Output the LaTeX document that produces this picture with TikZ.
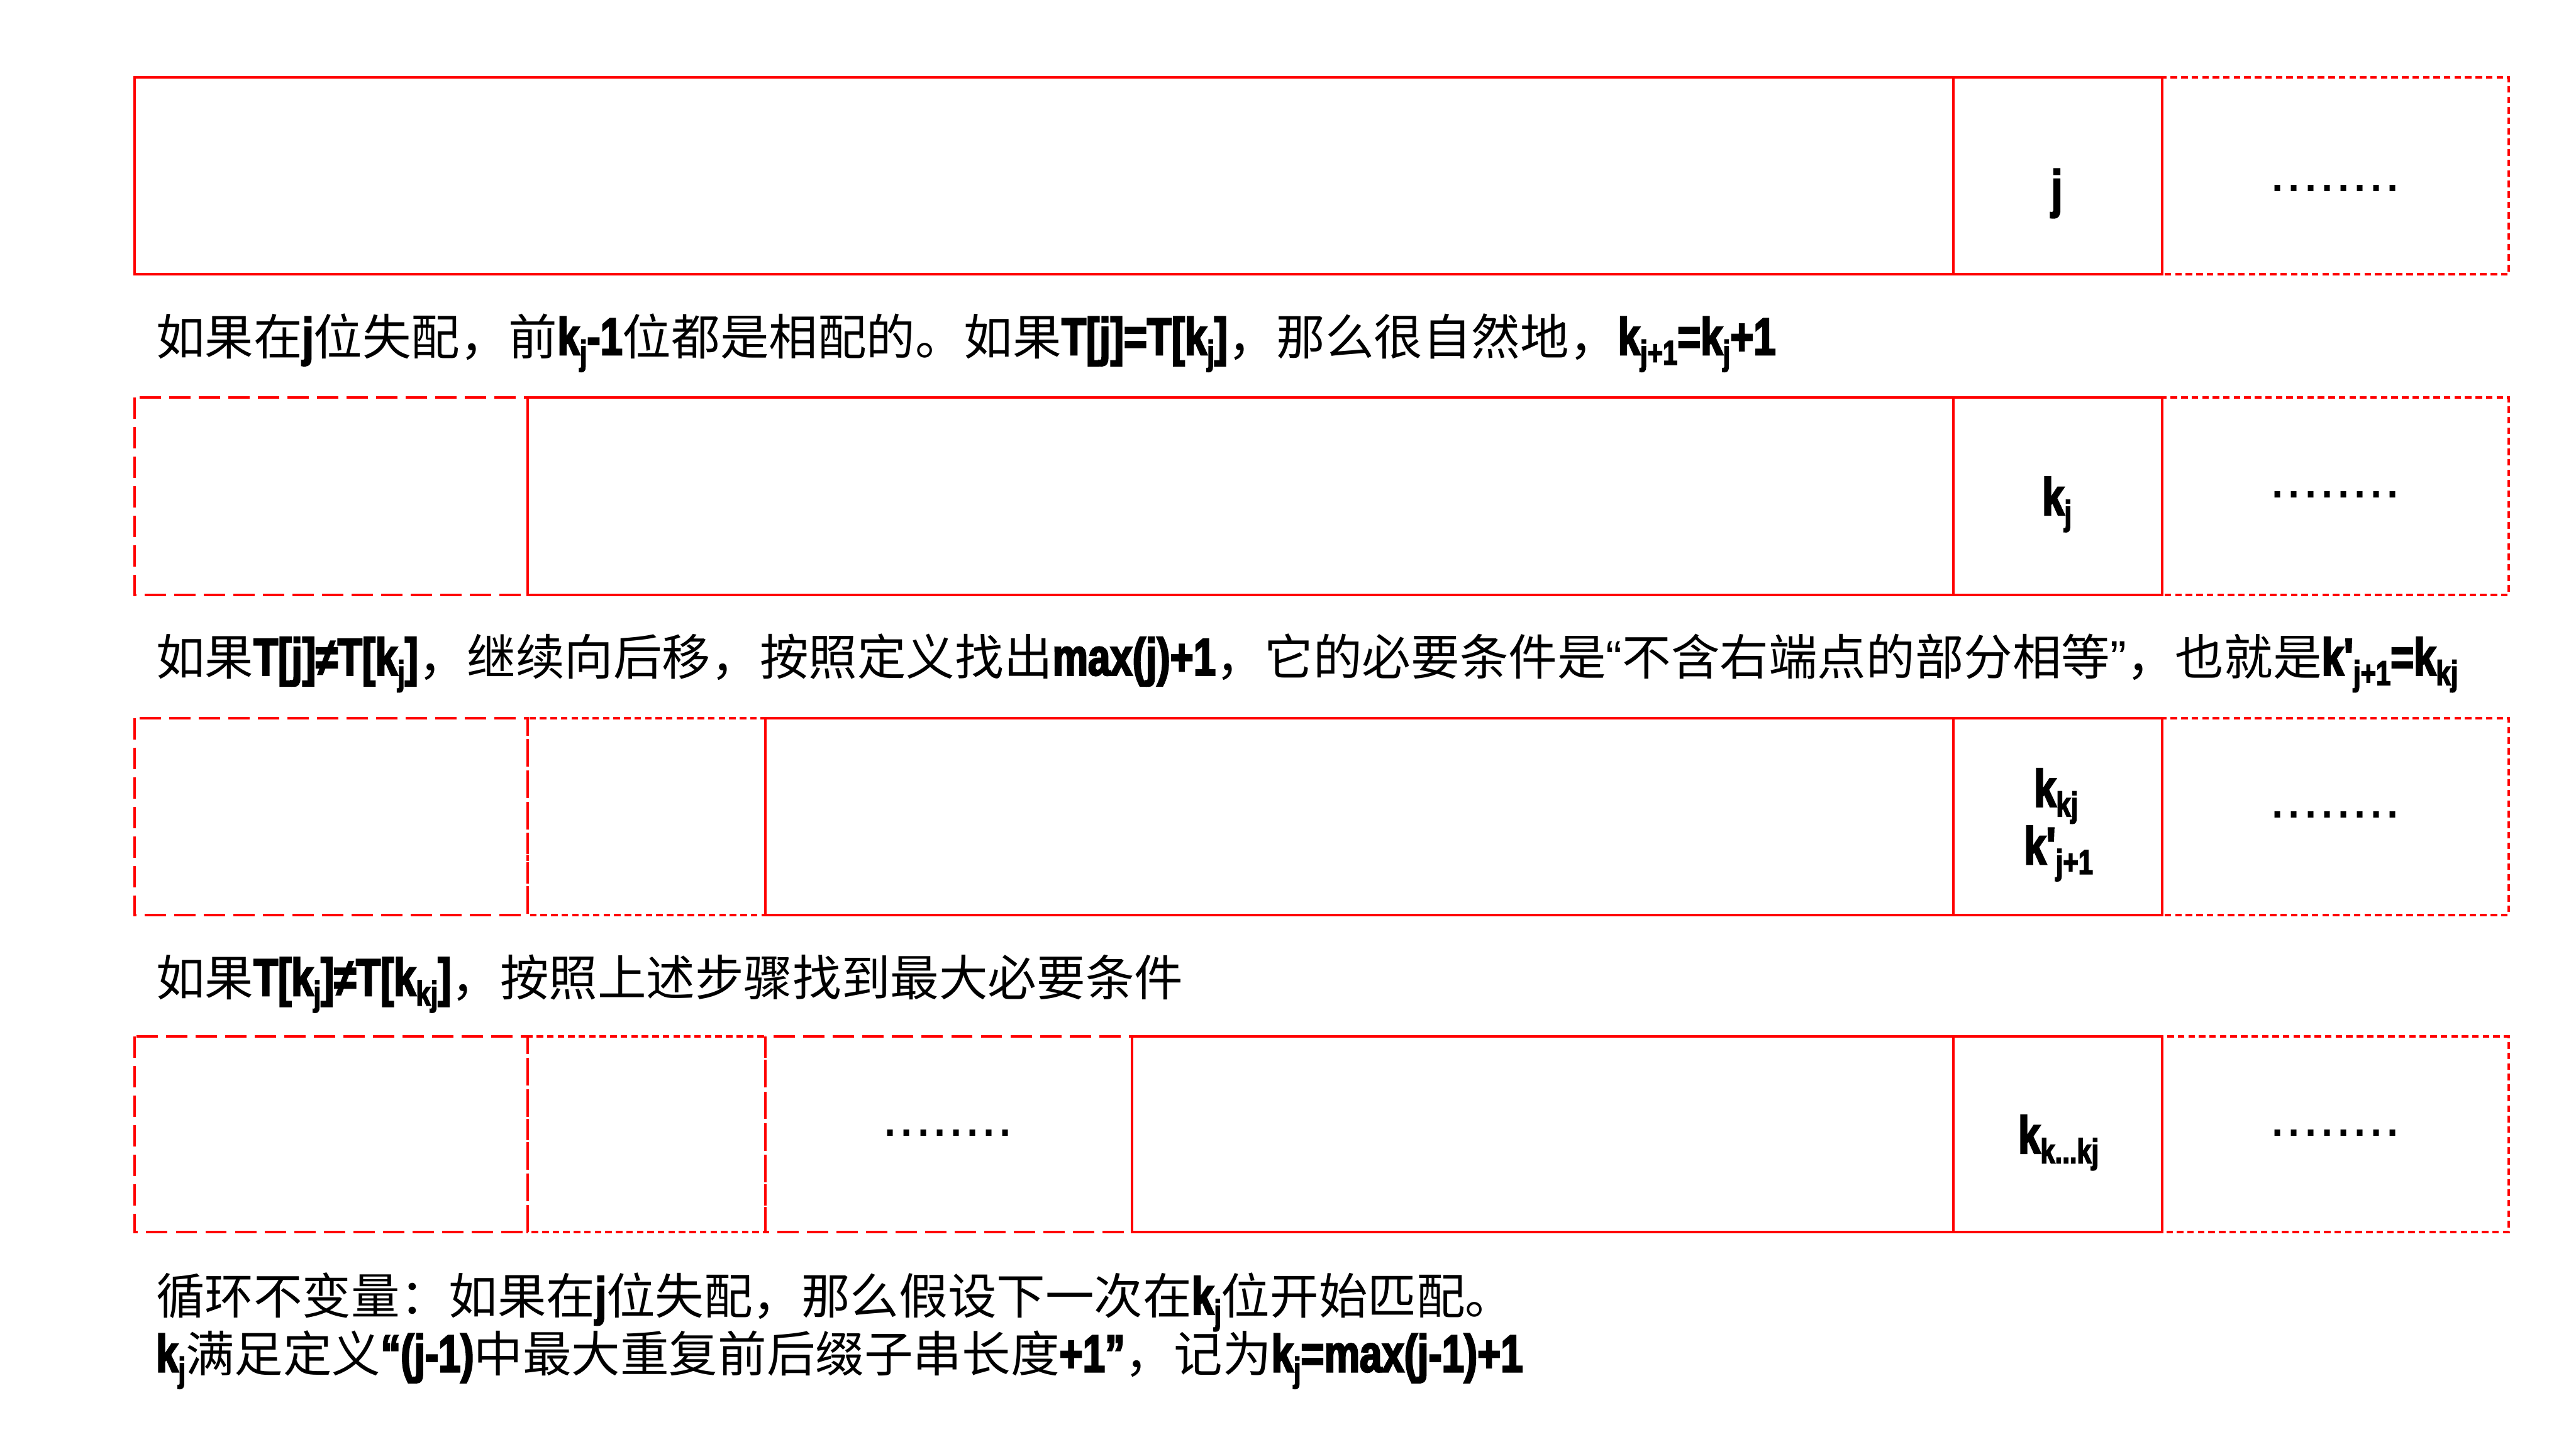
\documentclass[tikz,border=0pt]{standalone}
\usepackage{fontspec}
\setmainfont{Noto Sans CJK SC}
\newfontfamily\latf[FakeStretch=0.76,BoldFeatures={FakeBold=3}]{Liberation Sans}
\newfontfamily\dotf{Liberation Sans}
\newcommand\lt[1]{{\latf\bfseries\fontsize{32}{38}\selectfont #1}}
\newcommand\sbs[1]{\raisebox{-6pt}{\fontsize{21}{21}\selectfont #1}}
\newcommand\dotrow{{\dotf\fontsize{36}{40}\selectfont ........}}
\tikzset{
  every node/.style={inner sep=0pt,outer sep=0pt},
  txt/.style={anchor=base west,font=\fontsize{29.7}{35}\selectfont},
  lbl/.style={anchor=base},
  solidbox/.style={draw=red,line width=1.5pt},
  dotbox/.style={draw=red,line width=1.5pt,dash pattern=on 4pt off 2.4pt},
  longdash/.style={draw=red,line width=1.5pt,dash pattern=on 13pt off 5pt}
}
\begin{document}
\begin{tikzpicture}[x=1pt,y=-1pt]
\useasboundingbox (0,0) rectangle (1568,882);
% row 1
\draw[dotbox] (1316,47) rectangle (1527,167);
\draw[solidbox] (82,47) rectangle (1316,167);
\draw[solidbox,line width=1.2pt] (1189,47) -- (1189,167);
% row 2
\draw[longdash] (82,242) rectangle (321,362);
\draw[dotbox] (1316,242) rectangle (1527,362);
\draw[solidbox] (321,242) rectangle (1316,362);
\draw[solidbox,line width=1.2pt] (1189,242) -- (1189,362);
% row 3
\draw[longdash] (82,437) rectangle (321,557);
\draw[dotbox] (321,437) rectangle (466,557);
\draw[dotbox] (1316,437) rectangle (1527,557);
\draw[solidbox] (466,437) rectangle (1316,557);
\draw[solidbox,line width=1.2pt] (1189,437) -- (1189,557);
% row 4
\draw[longdash] (82,631) rectangle (321,750);
\draw[dotbox] (321,631) rectangle (466,750);
\draw[longdash] (466,631) rectangle (689,750);
\draw[dotbox] (1316,631) rectangle (1527,750);
\draw[solidbox] (689,631) rectangle (1316,750);
\draw[solidbox,line width=1.2pt] (1189,631) -- (1189,750);
% cell labels
\node[lbl] (c1) at (1252,126) {\lt{j}};
\node[lbl] (c2) at (1252,313.5) {\lt{k\sbs{j}}};
\node[lbl] (c3a) at (1251.5,491) {\lt{k\sbs{kj}}};
\node[lbl] (c3b) at (1253,526) {\lt{k'\sbs{j+1}}};
\node[lbl] (c4) at (1253,702) {\lt{k\sbs{k...kj}}};
\node[lbl] (d1) at (1421.5,116.6) {\dotrow};
\node[lbl] (d2) at (1421.5,303) {\dotrow};
\node[lbl] (d3) at (1421.5,498) {\dotrow};
\node[lbl] (d4) at (1421.5,691.5) {\dotrow};
\node[lbl] (d5) at (577,691.5) {\dotrow};
% texts
\node[txt] (t1) at (95,216) {如果在\lt{j}位失配，前\lt{k\sbs{j}-1}位都是相配的。如果\lt{T[j]=T[k\sbs{j}]}，那么很自然地，\lt{k\sbs{j+1}=k\sbs{j}+1}};
\node[txt] (t2) at (95,411) {如果\lt{T[j]≠T[k\sbs{j}]}，继续向后移，按照定义找出\lt{max(j)+1}，它的必要条件是{\dotf“}不含右端点的部分相等{\dotf”}，也就是\lt{k'\sbs{j+1}=k\sbs{kj}}};
\node[txt] (t3) at (95,606) {如果\lt{T[k\sbs{j}]≠T[k\sbs{kj}]}，按照上述步骤找到最大必要条件};
\node[txt] (t4) at (95,800) {循环不变量：如果在\lt{j}位失配，那么假设下一次在\lt{k\sbs{j}}位开始匹配。};
\node[txt] (t5) at (95,835) {\lt{k\sbs{j}}满足定义\lt{“(j-1)}中最大重复前后缀子串长度\lt{+1”}，记为\lt{k\sbs{j}=max(j-1)+1}};
\end{tikzpicture}
\end{document}
